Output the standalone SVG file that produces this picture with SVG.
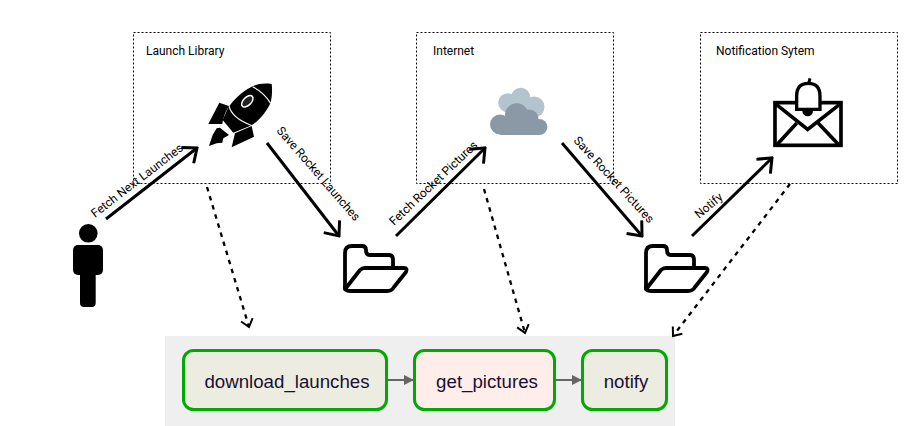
<svg xmlns="http://www.w3.org/2000/svg" width="919" height="426" viewBox="0 0 919 426">
<style>
.box{fill:none;stroke:#000;stroke-width:1;stroke-dasharray:2 2}
.lbl{font-family:Roboto,"Liberation Sans",sans-serif;font-size:12px;fill:#000}
.solid{fill:none;stroke:#000;stroke-width:3}
.dash{fill:none;stroke:#000;stroke-width:2.300;stroke-dasharray:4.500 5}
.task{stroke:#00aa00;stroke-width:3}
.tname{font-family:"Liberation Sans",Arial,sans-serif;font-size:18.7px;fill:#1a0f33;text-anchor:middle}
.edge{fill:none;stroke:#666;stroke-width:2}
.folder{fill:none;stroke:#000;stroke-width:3.800;stroke-linejoin:round;stroke-linecap:round}
</style>
<defs>
<marker id="ah" viewBox="-12 -8 14 16" refX="0" refY="0" markerWidth="14" markerHeight="16" markerUnits="userSpaceOnUse" orient="auto"><path d="M-7.500,-6 L0,0 L-7.500,6" fill="none" stroke="#000" stroke-width="2"/></marker>
<marker id="ab" viewBox="-16 -11 18 22" refX="0" refY="0" markerWidth="18" markerHeight="22" markerUnits="userSpaceOnUse" orient="auto"><path d="M-12,-10 L0,0 L-12,10" fill="none" stroke="#000" stroke-width="3"/></marker>
<marker id="eh" viewBox="-11 -6 12 12" refX="0" refY="0" markerWidth="12" markerHeight="12" markerUnits="userSpaceOnUse" orient="auto"><path d="M-10,-5 L0,0 L-10,5Z" fill="#666"/></marker>
<g id="fold" class="folder"><path d="M345,289 V253 Q345,246 352,246 H362 Q366,246 366,250 Q366,255 370,255 H389 Q393,255 393,260 V267"/><path d="M346,288 L360,270 Q362,268 365,268 H404 Q408,268 406,272 L394,287 Q392,291 387,291 H350 Q345,291 345,287"/></g>
</defs>
<rect x="165" y="336" width="510" height="90" fill="#efefef"/>
<rect class="box" x="133.500" y="32.500" width="197" height="151"/>
<rect class="box" x="416.500" y="32.500" width="197" height="151"/>
<rect class="box" x="700.500" y="32.500" width="197" height="151"/>
<g id="launch-library"><text class="lbl" x="146" y="55">Launch Library</text>
<g transform="translate(60,20) scale(.3333)">
<path d="M635,192 C610,188 590,193 575,200 C545,215 520,240 505,262 L488,300 L520,338 L575,316 C600,300 622,270 632,248 C637,225 637,205 635,192Z" fill="#000"/>
<path d="M578,200 Q612,218 632,250 M507,258 Q515,295 578,318" fill="none" stroke="#fff" stroke-width="3.500"/>
<ellipse cx="562" cy="244" rx="21" ry="12" transform="rotate(-45 562 244)" fill="#222" stroke="#fff" stroke-width="4.500"/>
<path d="M445,312 L478,248 L507,258 Q490,285 487,312Z M515,382 L525,340 L575,318 L582,350Z M447,378 L458,345 L470,325 L480,323 L507,345 L490,355 L487,368 L470,370Z" fill="#000"/>
</g></g>
<g id="internet"><text class="lbl" x="433" y="55">Internet</text>
<g fill="#b3c4cf"><circle cx="520.700" cy="97.300" r="9.500"/><circle cx="507.700" cy="102.700" r="9.500"/><circle cx="534" cy="107" r="10.500"/></g>
<g fill="#8a99a5"><circle cx="500" cy="124.500" r="10"/><circle cx="516.700" cy="115" r="11.700"/><circle cx="529" cy="119" r="9.500"/><circle cx="539.300" cy="127" r="8"/><rect x="500" y="120" width="39" height="15"/></g></g>
<g id="notification-system"><text class="lbl" x="716" y="55">Notification Sytem</text>
<g transform="translate(630,20) scale(.3333)" fill="none" stroke="#000" stroke-width="11">
<rect x="435" y="248" width="198" height="128"/>
<path d="M435,250 L533,328 L633,250 M440,375 L500,310 M627,375 L565,310"/>
<circle cx="533" cy="273" r="12" stroke-width="8" fill="#000"/>
<path d="M500,268 V228 Q500,190 535,190 Q570,190 570,228 V268Z" fill="#fff" stroke-width="10"/>
<path d="M540,175 L536,190" stroke-width="9"/>
</g></g>
<g id="user" fill="#000"><circle cx="88.300" cy="233.300" r="9.300"/><rect x="73" y="245" width="30" height="30" rx="5"/><rect x="80" y="265" width="15.700" height="42" rx="4"/></g>
<g id="folder-1"><use href="#fold"/></g>
<g id="folder-2"><use href="#fold" x="301"/></g>
<g id="connectors">
<path class="solid" d="M106,219 L197,148" marker-end="url(#ab)"/>
<path class="solid" d="M267,143 L339,236" marker-end="url(#ab)"/>
<path class="solid" d="M396,236 L485,148" marker-end="url(#ab)"/>
<path class="solid" d="M562,143 L642,236" marker-end="url(#ab)"/>
<path class="solid" d="M692,236 L772,158" marker-end="url(#ab)"/>
<path class="dash" d="M207,187 L249,327" marker-end="url(#ah)"/>
<path class="dash" d="M484,189 L525,333" marker-end="url(#ah)"/>
<path class="dash" d="M790,184 L673,336" marker-end="url(#ah)"/>
<path class="edge" d="M387,380 H414" marker-end="url(#eh)"/>
<path class="edge" d="M556,380 H582" marker-end="url(#eh)"/>
</g>
<g id="edge-labels">
<text class="lbl" transform="translate(95,218) rotate(-37.600)">Fetch Next Launches</text>
<text class="lbl" transform="translate(276,131) rotate(49)">Save Rocket Launches</text>
<text class="lbl" transform="translate(394,226) rotate(-43.500)">Fetch Rocket Pictures</text>
<text class="lbl" transform="translate(573,141) rotate(47.500)">Save Rocket Pictures</text>
<text class="lbl" transform="translate(699,219) rotate(-40)">Notify</text>
</g>
<g id="download_launches"><rect class="task" x="183.500" y="350.500" width="203" height="59" rx="10" fill="#ecede0"/><text class="tname" x="287" y="388">download_launches</text></g>
<g id="get_pictures"><rect class="task" x="414.500" y="350.500" width="140" height="59" rx="10" fill="#ffedea"/><text class="tname" x="487" y="388">get_pictures</text></g>
<g id="notify"><rect class="task" x="582.500" y="350.500" width="84" height="59" rx="10" fill="#ecede0"/><text class="tname" x="626" y="388">notify</text></g>
</svg>
